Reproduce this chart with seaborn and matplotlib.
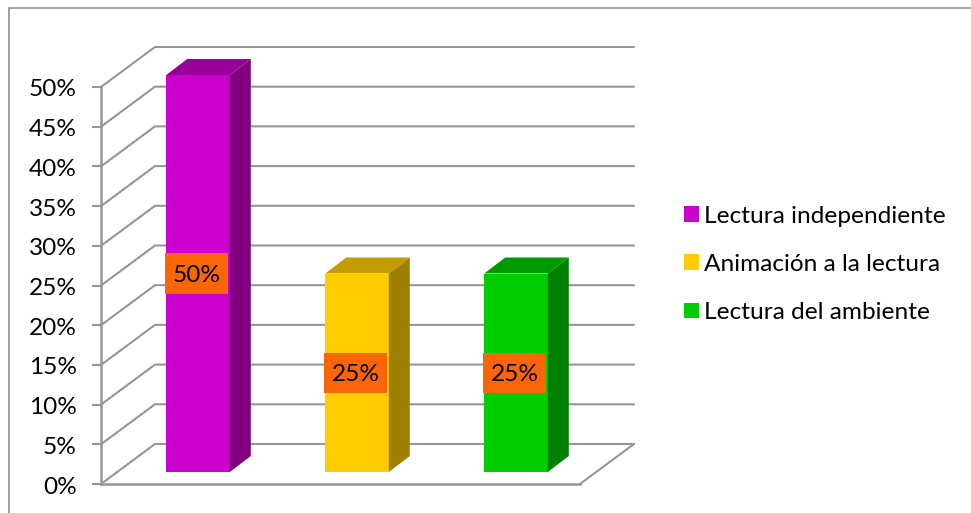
import matplotlib
matplotlib.use("Agg")
import matplotlib.pyplot as plt
from matplotlib.patches import Polygon, Rectangle
from matplotlib.transforms import ScaledTranslation
import seaborn as sns

categories = ["Lectura independiente", "Animación a la lectura", "Lectura del ambiente"]
values = [50, 25, 25]
value_labels = ["50%", "25%", "25%"]
front_colors = ["#CC00CC", "#FFCC00", "#00CC00"]
top_colors = ["#990099", "#C49C00", "#009900"]
side_colors = ["#800080", "#A08000", "#008000"]
y_ticks = [0, 5, 10, 15, 20, 25, 30, 35, 40, 45, 50]

W, H = 971, 513
GRID = "#969696"
FONT_SIZE = 17.6

sns.set_theme(style="white")
plt.rcParams["font.family"] = ["Lato", "DejaVu Sans"]


def px_axes(fig, left, right, top, bottom):
    # axes box given in pixels of the reference
    return fig.add_axes([left / W, 1 - bottom / H, (right - left) / W, (bottom - top) / H])


fig = plt.figure(figsize=(W / 100, H / 100), dpi=100)
fig.patches.append(Rectangle((8.5 / W, -0.1), 1.1, 1.1 - 8.5 / H, transform=fig.transFigure,
                             fill=False, ec="#868686", lw=1.1))

# front plane of the chart, holds the axis and the walls
ax = px_axes(fig, 101, 580, 87, 484)
ax.set_xlim(0, 1)
ax.set_ylim(0, 50)
ax.patch.set_alpha(0)
depth_x = 54 / 479
depth_y = 5.04
for v in y_ticks:
    ax.plot([0, depth_x, 1 + depth_x], [v, v + depth_y, v + depth_y], color=GRID, lw=1.5,
            clip_on=False, solid_joinstyle="miter")
ax.plot([1, 1 + depth_x], [0, depth_y], color=GRID, lw=1.5, clip_on=False)
ax.set_xticks([])
ax.set_yticks(y_ticks)
ax.set_yticklabels([f"{v}%" for v in y_ticks], fontsize=FONT_SIZE, color="black")
ax.tick_params(axis="y", length=6.5, width=1.5, color=GRID, left=True, pad=11)
nudge = ScaledTranslation(0, -1 / 100, fig.dpi_scale_trans)
for lab in ax.get_yticklabels():
    lab.set_transform(lab.get_transform() + nudge)
sns.despine(ax=ax)
for side in ["left", "bottom"]:
    ax.spines[side].set_color(GRID)
    ax.spines[side].set_linewidth(1.8)

# bars sit in the middle of the floor, so they get their own plane
bx = px_axes(fig, 118.5, 595.5, 75, 472)
sns.barplot(x=categories, y=values, hue=categories, palette=front_colors, legend=False,
            width=0.4, saturation=1, linewidth=0, ax=bx)
bx.set_xlim(-0.5, 2.5)
bx.set_ylim(0, 50)
bx.axis("off")
bar_dx = 21 / 159
bar_dy = 16 / 39.7 * 5
half = 0.2
for i, v in enumerate(values):
    top = [(i - half, v), (i + half, v), (i + half + bar_dx, v + bar_dy), (i - half + bar_dx, v + bar_dy)]
    side = [(i + half, 0), (i + half + bar_dx, bar_dy), (i + half + bar_dx, v + bar_dy), (i + half, v)]
    bx.add_patch(Polygon(top, fc=top_colors[i], ec="none", clip_on=False))
    bx.add_patch(Polygon(side, fc=side_colors[i], ec="none", clip_on=False))
    bx.add_patch(Rectangle((i - half - 0.006, v / 2 - 2.55), 0.396, 5.1, fc="#F96507", ec="none", zorder=5))
    bx.text(i - 0.008, v / 2 - 0.2, value_labels[i], ha="center", va="center", fontsize=FONT_SIZE,
            color="black", zorder=6)

handles = [c[0] for c in bx.containers]
fig.legend(handles, categories, loc="center left", bbox_to_anchor=(664 / W, 1 - 264.5 / H), frameon=False,
           fontsize=FONT_SIZE, handlelength=0.62, handleheight=0.62, handletextpad=0.2, labelspacing=1.11,
           borderpad=0.3, labelcolor="black")

fig.savefig("out.png", dpi=100, facecolor="white")
